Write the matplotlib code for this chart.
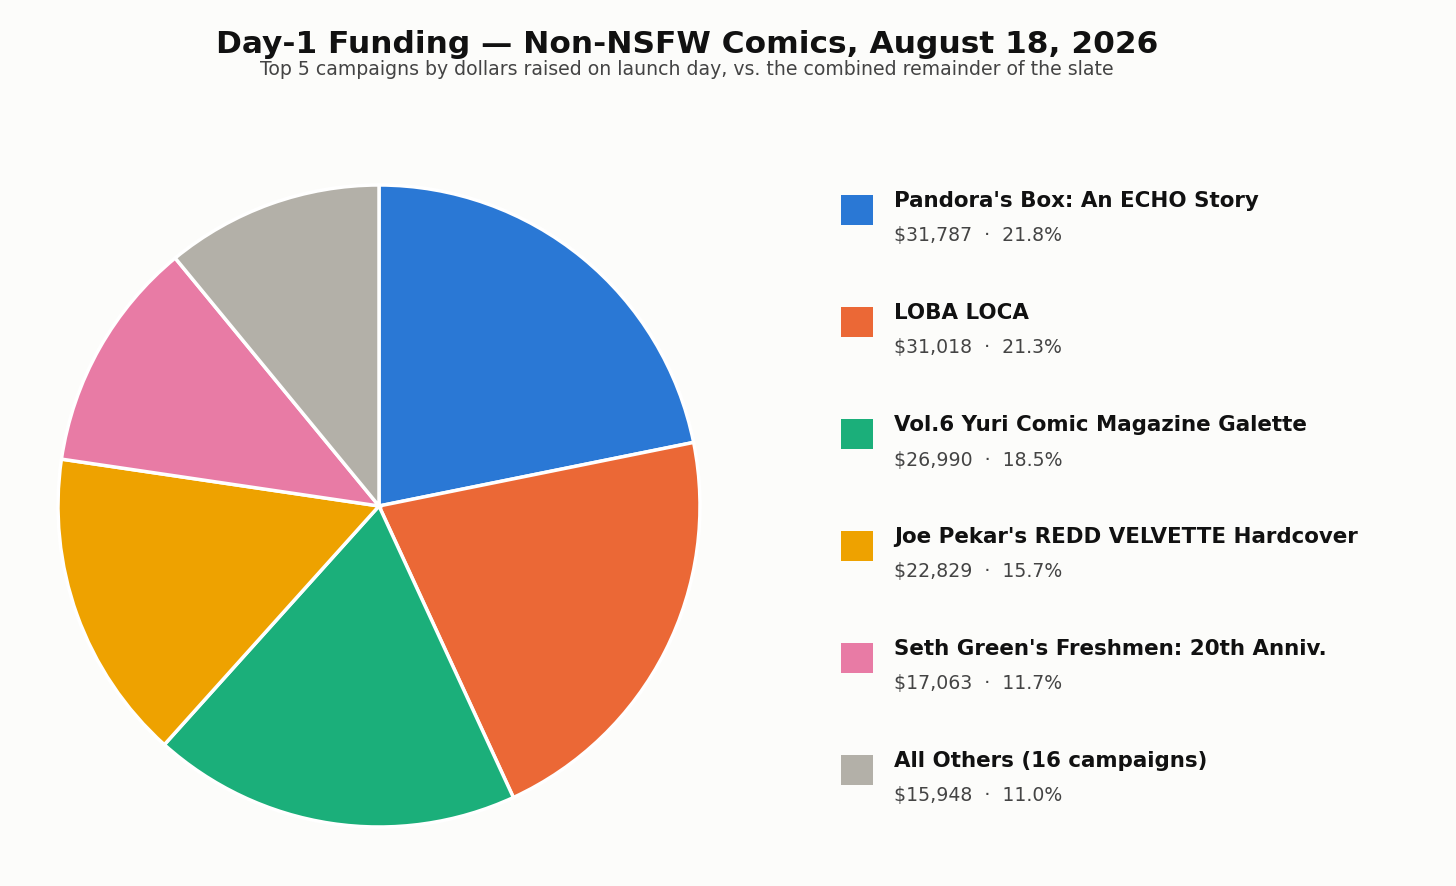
import matplotlib
matplotlib.use('agg')
import matplotlib.pyplot as plt
from matplotlib.patches import Rectangle

plt.rcParams['font.family'] = ['DejaVu Sans']

# campaigns and day-1 dollars
labels = ["Pandora's Box: An ECHO Story",
          "LOBA LOCA",
          "Vol.6 Yuri Comic Magazine Galette",
          "Joe Pekar's REDD VELVETTE Hardcover",
          "Seth Green's Freshmen: 20th Anniv.",
          "All Others (16 campaigns)"]
dollars = [31787, 31018, 26990, 22829, 17063, 15948]
colors = ["#2a78d5", "#eb6836", "#1baf7a", "#eea200", "#e87ba5", "#b3b0a8"]

bg = "#fcfcfa"
total = sum(dollars)

fig = plt.figure(figsize=(14.56, 8.86), dpi=100, facecolor=bg)

ax = fig.add_axes([0.0398, 0.0666, 0.441, 0.7246])
ax.set_facecolor(bg)
ax.pie(dollars, colors=colors, startangle=90, counterclock=False,
       wedgeprops=dict(edgecolor="white", linewidth=2.5))
ax.set_xlim(-1.0, 1.0)
ax.set_ylim(-1.0, 1.0)
ax.set_aspect("equal")

fig.text(0.472, 0.950, "Day-1 Funding \u2014 Non-NSFW Comics, August 18, 2026",
         ha="center", va="center", fontsize=22.5, fontweight="bold", color="#111111")
fig.text(0.472, 0.921, "Top 5 campaigns by dollars raised on launch day, vs. the combined remainder of the slate",
         ha="center", va="center", fontsize=13.6, color="#444444")

# custom legend on the right
W, H = 1456.0, 886.0
for i, (lab, val, col) in enumerate(zip(labels, dollars, colors)):
    top = 195 + i * 112
    fig.patches.append(Rectangle((841 / W, 1 - (top + 30) / H), 32 / W, 30 / H,
                                 transform=fig.transFigure, facecolor=col,
                                 edgecolor="none"))
    fig.text(894 / W, 1 - (top + 6) / H, lab, ha="left", va="center",
             fontsize=15.4, fontweight="bold", color="#111111")
    pct = val / total * 100
    fig.text(894 / W, 1 - (top + 41) / H, f"${val:,}  \u00b7  {pct:.1f}%",
             ha="left", va="center", fontsize=13.6, color="#444444")

fig.savefig("out.png", dpi=100, facecolor=bg)
